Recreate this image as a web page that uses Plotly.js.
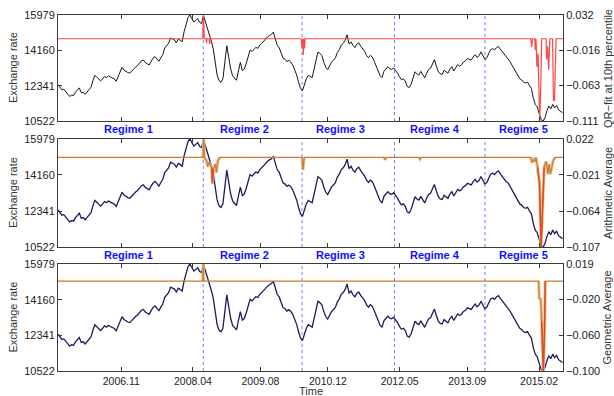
<!DOCTYPE html>
<html>
<head>
<meta charset="utf-8">
<script src="https://cdn.plot.ly/plotly-3.0.1.min.js"></script>
<style>
  html, body { margin: 0; padding: 0; background: #fff; }
  #chart { width: 614px; height: 396px; }
</style>
</head>
<body>
<div id="chart"></div>
<script>
// Exchange rate, sampled every 14 days from 2005-08-01
const seriesStart = Date.UTC(2005, 7, 1);
const stepDays = 14;
const exchangeRate = [
  12400, 12250, 12130, 12160, 12030, 11950, 11790, 11860, 11830, 12010,
  12120, 12230, 11980, 12010, 11900, 12040, 12130, 12260, 12600, 12880,
  12780, 12680, 12590, 12700, 12820, 12760, 12850, 12790, 12740, 12690,
  12570, 12820, 13060, 13290, 13150, 13080, 13020, 12990, 13110, 13230,
  13300, 13380, 13500, 13620, 13660, 13530, 13470, 13410, 13600, 13760,
  13840, 13720, 13600, 13780, 13940, 14280, 14390, 14520, 14800, 14760,
  14700, 14550, 14740, 14680, 14600, 15120, 15560, 15840, 15979, 15820,
  15620, 15700, 15790, 15600, 15540, 15950, 15650, 15300, 14950, 14640,
  14250, 13600, 12900, 12600, 12520, 12700, 13600, 14400, 13800, 13200,
  12850, 12720, 12620, 13100, 13550, 13120, 13200, 13480, 13850, 14180,
  14100, 14200, 14320, 14260, 14430, 14520, 14640, 14760, 14850, 14920,
  14980, 15100, 14700, 14420, 14300, 14050, 13760, 13700, 13580, 13650,
  13560, 13400, 13150, 12900, 12520, 12200, 12080, 12450, 12700, 12880,
  12800, 12760, 13200, 13650, 14080, 14000, 13900, 13550, 13300, 13170,
  13380, 13560, 13650, 13780, 14050, 14200, 14430, 14520, 14680, 14960,
  14480, 14600, 14420, 14300, 14480, 14550, 14380, 14250, 14120, 13900,
  13780, 13900, 13820, 13600, 13380, 13150, 12860, 12760, 13080, 13200,
  13320, 13220, 13180, 13260, 13150, 12990, 12800, 12650, 12700, 12580,
  12300, 12250, 12420, 12800, 13060, 12950, 12890, 13080, 12900, 12750,
  12980, 13180, 13240, 13450, 13680, 13350, 13080, 12950, 12920, 13140,
  13060, 12980, 13200, 13320, 13100, 13250, 13430, 13350, 13420, 13560,
  13620, 13740, 13700, 13660, 13820, 13940, 13800, 13880, 14080, 13850,
  13700, 13780, 13960, 14200, 14250, 14180, 14300, 14360, 14220, 14100,
  13950, 13820, 13760, 13580, 13400, 13220, 13050, 12900, 12700, 12640,
  12520, 12480, 12530, 12350, 12200, 11700, 11380, 11250, 10900, 10600,
  10522, 10700, 11050, 11300, 11150, 11380, 11200, 11320, 11100, 11000, 10950
];

// QR-fit at the 10th percentile
const qrDates = [
  '2005-08-01', '2008-06-10', '2008-06-16', '2008-06-22', '2008-07-04', '2008-07-08',
  '2008-07-12', '2008-07-26', '2008-07-30', '2008-08-03', '2010-05-22', '2010-05-28',
  '2010-06-02', '2010-06-06', '2010-06-11', '2010-06-15', '2010-06-19', '2014-12-04',
  '2014-12-10', '2014-12-16', '2015-01-01', '2015-01-05', '2015-01-10', '2015-01-17',
  '2015-01-25', '2015-02-06', '2015-02-14', '2015-02-20', '2015-03-24', '2015-03-28',
  '2015-04-04', '2015-04-12', '2015-04-20', '2015-05-10', '2015-05-16', '2015-05-24',
  '2015-06-04', '2015-07-24'
];
const qrValues = [
  0, 0, 0.032, 0, 0, -0.006,
  0, 0, -0.007, 0, 0, -0.012,
  0, -0.022, 0, -0.013, 0, 0,
  -0.011, 0, 0, -0.015, 0, -0.038,
  -0.02, -0.111, -0.06, 0, 0, -0.028,
  -0.01, -0.042, 0, 0, -0.083, -0.083,
  0, 0
];

// Arithmetic average
const arithDates = [
  '2005-08-01', '2008-06-12', '2008-06-17', '2008-06-22', '2008-07-08', '2008-07-16',
  '2008-07-24', '2008-08-14', '2008-08-19', '2008-08-26', '2008-09-10', '2008-09-16',
  '2008-09-28', '2008-10-11', '2010-05-28', '2010-06-04', '2010-06-12', '2012-01-10',
  '2012-01-17', '2012-01-24', '2012-09-18', '2012-09-25', '2012-10-02', '2014-12-04',
  '2014-12-12', '2014-12-22', '2015-01-02', '2015-01-10', '2015-01-22', '2015-02-04',
  '2015-02-16', '2015-02-26', '2015-03-10', '2015-03-24', '2015-04-06', '2015-04-14',
  '2015-04-24', '2015-05-04', '2015-05-14', '2015-05-28', '2015-07-24'
];
const arithValues = [
  0, 0, 0.022, 0, -0.004, -0.011,
  -0.006, -0.012, -0.031, -0.014, -0.008, -0.018,
  -0.004, 0, 0, -0.015, 0, 0,
  -0.003, 0, 0, -0.002, 0, 0,
  -0.006, -0.003, -0.005, 0, -0.012, -0.03,
  -0.107, -0.06, -0.012, -0.005, -0.02, -0.008,
  -0.02, -0.012, -0.004, 0, 0
];

// Geometric average
const geoDates = [
  '2005-08-01', '2008-06-11', '2008-06-14', '2008-06-17', '2015-01-30', '2015-02-02',
  '2015-02-14', '2015-02-20', '2015-03-04', '2015-03-12', '2015-03-18', '2015-07-24'
];
const geoValues = [
  0, 0, 0.019, 0, 0, -0.019,
  -0.02, -0.045, -0.100, -0.06, 0, 0
];

// Regime boundaries and labels
const regimeBreaks = ['2008-06-14', '2010-05-28', '2012-03-25', '2014-01-07'];
const regimeNames = ['Regime 1', 'Regime 2', 'Regime 3', 'Regime 4', 'Regime 5'];
const regimeLabelDates = ['2006-12-26', '2009-04-11', '2011-02-26', '2013-01-11', '2014-10-12'];

// Axis ticks
const timeTicks = ['2006-11-01', '2008-04-01', '2009-08-01', '2010-12-01', '2012-05-01', '2013-09-01', '2015-02-01'];
const rateTicks = [10522, 12341, 14160, 15979];
const qrTicks = [-0.111, -0.063, -0.016, 0.032];
const arithTicks = [-0.107, -0.064, -0.021, 0.022];
const geoTicks = [-0.100, -0.060, -0.020, 0.019];
const timeRange = ['2005-08-01', '2015-07-24'];

const rateDates = exchangeRate.map((_, i) =>
  new Date(seriesStart + i * stepDays * 86400000).toISOString().slice(0, 10));

// Excursions away from the zero baseline only; flat stretches become gaps.
function excursions(dates, vals) {
  const x = [], y = [];
  vals.forEach((v, i) => {
    if (i > 0 && v === 0 && vals[i - 1] === 0) { x.push(dates[i]); y.push(null); }
    else if (i === 0 && v === 0) { return; }
    x.push(dates[i]); y.push(v);
  });
  return { x, y };
}
// Stretches at or below a depth, used for the darker core of deep dips.
function below(vals, thr) {
  return vals.map((v, i) => {
    const keep = v <= thr || (i > 0 && vals[i - 1] <= thr) || (i < vals.length - 1 && vals[i + 1] <= thr);
    return keep ? v : null;
  });
}

const font = 'Liberation Sans, Arial, sans-serif';
const navy = '#1c1c5c';
const orange = '#cf7a32';
const tan = 'rgba(232,192,140,0.9)';
const deepRed = '#df4a1c';

const arithHalo = excursions(arithDates, arithValues);
const geoHalo = excursions(geoDates, geoValues);

const traces = [
  { x: rateDates, y: exchangeRate, xaxis: 'x', yaxis: 'y', mode: 'lines',
    line: { color: '#151515', width: 1 } },
  { x: qrDates, y: qrValues, xaxis: 'x', yaxis: 'y2', mode: 'lines',
    line: { color: '#ff4545', width: 1.2 } },

  { x: rateDates, y: exchangeRate, xaxis: 'x2', yaxis: 'y3', mode: 'lines',
    line: { color: navy, width: 1.3 } },
  { x: arithHalo.x, y: arithHalo.y, xaxis: 'x2', yaxis: 'y4', mode: 'lines',
    connectgaps: false, line: { color: tan, width: 3.2 } },
  { x: arithDates, y: arithValues, xaxis: 'x2', yaxis: 'y4', mode: 'lines',
    line: { color: orange, width: 1.2 } },
  { x: arithDates, y: below(arithValues, -0.025), xaxis: 'x2', yaxis: 'y4', mode: 'lines',
    connectgaps: false, line: { color: deepRed, width: 1.4 } },

  { x: rateDates, y: exchangeRate, xaxis: 'x3', yaxis: 'y5', mode: 'lines',
    line: { color: navy, width: 1.3 } },
  { x: geoHalo.x, y: geoHalo.y, xaxis: 'x3', yaxis: 'y6', mode: 'lines',
    connectgaps: false, line: { color: tan, width: 3.2 } },
  { x: geoDates, y: geoValues, xaxis: 'x3', yaxis: 'y6', mode: 'lines',
    line: { color: orange, width: 1.2 } },
  { x: geoDates, y: below(geoValues, -0.06), xaxis: 'x3', yaxis: 'y6', mode: 'lines',
    connectgaps: false, line: { color: deepRed, width: 1.4 } }
].map(t => Object.assign({ showlegend: false, hoverinfo: 'skip' }, t));

const tickFont = { family: font, size: 11, color: '#222' };
const axisLine = '#3a3a3a';

function xAxis(anchor, labels) {
  return {
    type: 'date', range: timeRange, anchor: anchor, domain: [0, 1],
    tickvals: timeTicks, tickformat: '%Y.%m', showticklabels: labels,
    ticks: 'inside', ticklen: 4, tickcolor: axisLine,
    showline: true, linecolor: axisLine, linewidth: 1, mirror: 'ticks',
    showgrid: false, zeroline: false, tickfont: tickFont
  };
}
function leftAxis(domain, anchor) {
  return {
    domain: domain, anchor: anchor, range: [rateTicks[0], rateTicks[rateTicks.length - 1]],
    tickvals: rateTicks, tickformat: 'd', ticks: 'inside', ticklen: 4, tickcolor: axisLine,
    showline: true, linecolor: axisLine, linewidth: 1,
    showgrid: false, zeroline: false, tickfont: tickFont
  };
}
function rightAxis(overlay, anchor, ticks) {
  return {
    overlaying: overlay, anchor: anchor, side: 'right',
    range: [ticks[0], ticks[ticks.length - 1]], tickvals: ticks, tickformat: '.3f',
    ticks: 'inside', ticklen: 4, tickcolor: axisLine,
    showline: true, linecolor: axisLine, linewidth: 1,
    showgrid: false, zeroline: false, tickfont: tickFont
  };
}

const d1 = [0.702, 1.0], d2 = [0.348, 0.652], d3 = [0.0, 0.3006];

const shapes = [];
[['x', 'y domain'], ['x2', 'y3 domain'], ['x3', 'y5 domain']].forEach(([xr, yr]) => {
  regimeBreaks.forEach(d => {
    shapes.push({ type: 'line', xref: xr, yref: yr, x0: d, x1: d, y0: 0, y1: 1,
      layer: 'below', line: { color: 'rgb(120,120,255)', width: 1, dash: 'dot' } });
  });
});

const annotations = [];
[0.680, 0.326].forEach(yp => {
  regimeNames.forEach((name, k) => {
    annotations.push({ xref: 'x', yref: 'paper', x: regimeLabelDates[k], y: yp,
      xanchor: 'center', yanchor: 'middle',
      text: '<b>' + name + '</b>', showarrow: false,
      font: { family: font, size: 11, color: '#1010ff' } });
  });
});
const titleFont = { family: font, size: 11, color: '#333' };
[[d1, 'Exchange rate', 'QR\u2212fit at 10th percentile'],
 [d2, 'Exchange rate', 'Arithmetic Average'],
 [d3, 'Exchange rate', 'Geometric Average']].forEach(([dom, left, right]) => {
  const yc = (dom[0] + dom[1]) / 2;
  annotations.push({ xref: 'paper', yref: 'paper', x: -0.089, y: yc, text: left,
    xanchor: 'center', yanchor: 'middle',
    textangle: -90, showarrow: false, font: titleFont });
  annotations.push({ xref: 'paper', yref: 'paper', x: 1.089, y: yc, text: right,
    xanchor: 'center', yanchor: 'middle',
    textangle: -90, showarrow: false, font: titleFont });
});
annotations.push({ xref: 'paper', yref: 'paper', x: 0.501, y: -0.0575, text: 'Time',
  xanchor: 'center', yanchor: 'middle',
  showarrow: false, font: { family: font, size: 11, color: '#333' } });

const layout = {
  width: 614, height: 396,
  margin: { l: 58, r: 51, t: 15, b: 25, pad: 0 },
  paper_bgcolor: '#fff', plot_bgcolor: '#fff',
  font: { family: font, size: 11, color: '#222' },
  xaxis: xAxis('y', false),
  yaxis: leftAxis(d1, 'x'),
  yaxis2: rightAxis('y', 'x', qrTicks),
  xaxis2: xAxis('y3', false),
  yaxis3: leftAxis(d2, 'x2'),
  yaxis4: rightAxis('y3', 'x2', arithTicks),
  xaxis3: Object.assign(xAxis('y5', true), { tickfont: { family: font, size: 10.5, color: '#222' } }),
  yaxis5: leftAxis(d3, 'x3'),
  yaxis6: rightAxis('y5', 'x3', geoTicks),
  shapes: shapes,
  annotations: annotations
};

Plotly.newPlot('chart', traces, layout, { staticPlot: true, displayModeBar: false });
</script>
</body>
</html>
